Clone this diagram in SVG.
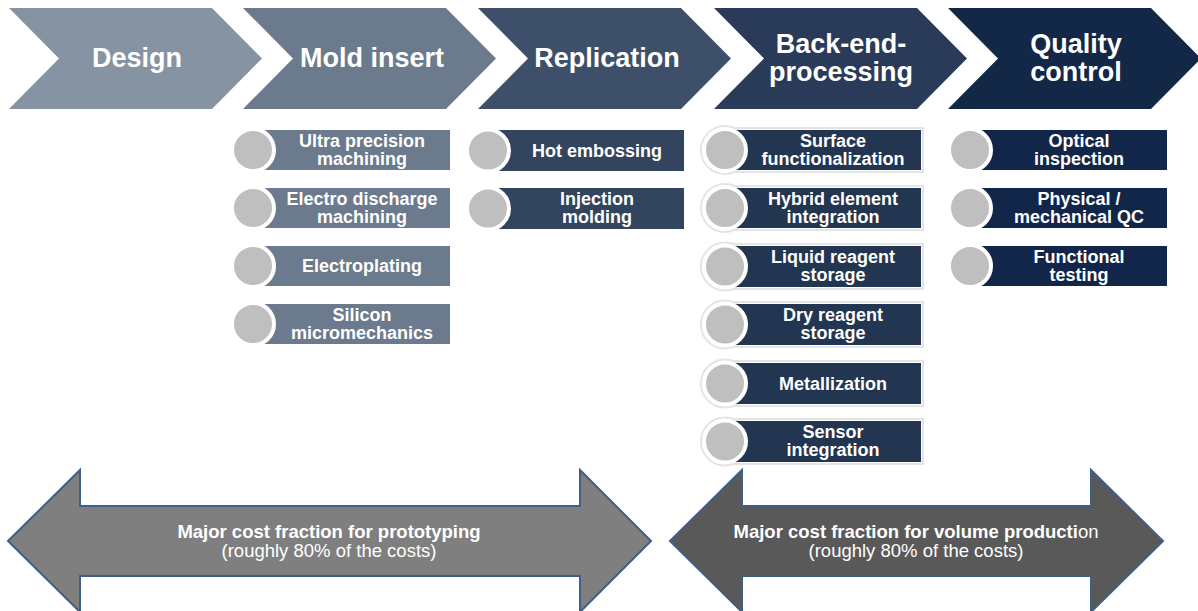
<svg xmlns="http://www.w3.org/2000/svg" width="1198" height="611" viewBox="0 0 1198 611">
<style>
.ct{font-family:"Liberation Sans",Arial,sans-serif;font-weight:bold;font-size:27px;fill:#fff;text-anchor:middle}
.bt{font-family:"Liberation Sans",Arial,sans-serif;font-weight:bold;font-size:18px;fill:#fff;text-anchor:middle}
.at{font-family:"Liberation Sans",Arial,sans-serif;font-size:18.5px;fill:#fff;text-anchor:middle}
.b{font-weight:bold}
.dot{fill:#bfbfbf;stroke:#fff;stroke-width:4}
.halo{fill:none;stroke:#e4e4e4;stroke-width:2}
</style>
<rect width="1198" height="611" fill="#fff"/>
<g id="design"><polygon points="9,8 212,8 262,58.5 212,109 9,109 59,58.5" fill="#8593a3"/><text class="ct" x="137" y="67">Design</text></g>
<g id="mold-insert"><polygon points="243,8 446,8 496,58.5 446,109 243,109 293,58.5" fill="#6b7a8c"/><text class="ct" x="372" y="67">Mold insert</text></g>
<g id="replication"><polygon points="478,8 681,8 731,58.5 681,109 478,109 528,58.5" fill="#3e5069"/><text class="ct" x="607" y="67">Replication</text></g>
<g id="back-end"><polygon points="714,8 917,8 967,58.5 917,109 714,109 764,58.5" fill="#293b58"/><text class="ct" x="841" y="53">Back-end-</text><text class="ct" x="841" y="81">processing</text></g>
<g id="quality"><polygon points="948,8 1151,8 1201,58.5 1151,109 948,109 998,58.5" fill="#132747"/><text class="ct" x="1076" y="53">Quality</text><text class="ct" x="1076" y="81">control</text></g>

<g id="mold-items" fill="#6b7a8c">
<g id="m1"><rect x="256" y="130" width="194" height="40"/><circle class="dot" cx="253" cy="150" r="21"/><text class="bt" x="362" y="147">Ultra precision</text><text class="bt" x="362" y="165">machining</text></g>
<g id="m2"><rect x="256" y="188" width="194" height="40"/><circle class="dot" cx="253" cy="208" r="21"/><text class="bt" x="362" y="205">Electro discharge</text><text class="bt" x="362" y="223">machining</text></g>
<g id="m3"><rect x="256" y="246" width="194" height="40"/><circle class="dot" cx="253" cy="266" r="21"/><text class="bt" x="362" y="272">Electroplating</text></g>
<g id="m4"><rect x="256" y="304" width="194" height="40"/><circle class="dot" cx="253" cy="324" r="21"/><text class="bt" x="362" y="321">Silicon</text><text class="bt" x="362" y="339">micromechanics</text></g>
</g>

<g id="rep-items" fill="#33455e">
<g id="r1"><rect x="491" y="130" width="193" height="41"/><circle class="dot" cx="488" cy="150.5" r="21"/><text class="bt" x="597" y="157">Hot embossing</text></g>
<g id="r2"><rect x="491" y="188" width="193" height="41"/><circle class="dot" cx="488" cy="208.5" r="21"/><text class="bt" x="597" y="205">Injection</text><text class="bt" x="597" y="223">molding</text></g>
</g>

<g id="back-items" fill="#233651">
<g id="b1"><rect class="halo" x="726" y="128" width="197" height="44"/><circle class="halo" cx="725" cy="150" r="24"/><rect x="728" y="130" width="193" height="40"/><circle class="dot" cx="725" cy="150" r="21"/><text class="bt" x="833" y="147">Surface</text><text class="bt" x="833" y="165">functionalization</text></g>
<g id="b2"><rect class="halo" x="726" y="186" width="197" height="44"/><circle class="halo" cx="725" cy="208" r="24"/><rect x="728" y="188" width="193" height="40"/><circle class="dot" cx="725" cy="208" r="21"/><text class="bt" x="833" y="205">Hybrid element</text><text class="bt" x="833" y="223">integration</text></g>
<g id="b3"><rect class="halo" x="726" y="244" width="197" height="45"/><circle class="halo" cx="725" cy="266.5" r="24"/><rect x="728" y="246" width="193" height="41"/><circle class="dot" cx="725" cy="266.5" r="21"/><text class="bt" x="833" y="263">Liquid reagent</text><text class="bt" x="833" y="281">storage</text></g>
<g id="b4"><rect class="halo" x="726" y="302" width="197" height="45"/><circle class="halo" cx="725" cy="324.5" r="24"/><rect x="728" y="304" width="193" height="41"/><circle class="dot" cx="725" cy="324.5" r="21"/><text class="bt" x="833" y="321">Dry reagent</text><text class="bt" x="833" y="339">storage</text></g>
<g id="b5"><rect class="halo" x="726" y="361" width="197" height="45"/><circle class="halo" cx="725" cy="383.5" r="24"/><rect x="728" y="363" width="193" height="41"/><circle class="dot" cx="725" cy="383.5" r="21"/><text class="bt" x="833" y="390">Metallization</text></g>
<g id="b6"><rect class="halo" x="726" y="419" width="197" height="45"/><circle class="halo" cx="725" cy="441.5" r="24"/><rect x="728" y="421" width="193" height="41"/><circle class="dot" cx="725" cy="441.5" r="21"/><text class="bt" x="833" y="438">Sensor</text><text class="bt" x="833" y="456">integration</text></g>
</g>

<g id="qc-items" fill="#12264a">
<g id="q1"><rect x="973" y="130" width="194" height="40"/><circle class="dot" cx="970" cy="150" r="21"/><text class="bt" x="1079" y="147">Optical</text><text class="bt" x="1079" y="165">inspection</text></g>
<g id="q2"><rect x="973" y="188" width="194" height="40"/><circle class="dot" cx="970" cy="208" r="21"/><text class="bt" x="1079" y="205">Physical /</text><text class="bt" x="1079" y="223">mechanical QC</text></g>
<g id="q3"><rect x="973" y="246" width="194" height="40"/><circle class="dot" cx="970" cy="266" r="21"/><text class="bt" x="1079" y="263">Functional</text><text class="bt" x="1079" y="281">testing</text></g>
</g>

<g id="connectors">
<g id="proto-arrow"><polygon points="8,541 80,470 80,506 580,506 580,470 651,541 580,612 580,576 80,576 80,612" fill="#7f7f7f" stroke="#3f5f86" stroke-width="2"/>
<text class="at b" x="329" y="538">Major cost fraction for prototyping</text><text class="at" x="329" y="557">(roughly 80% of the costs)</text></g>
<g id="volume-arrow"><polygon points="670,541 742,470 742,506 1091,506 1091,470 1163,541 1091,612 1091,576 742,576 742,612" fill="#595959" stroke="#3f5f86" stroke-width="2"/>
<text class="at" x="916" y="538"><tspan class="b">Major cost fraction for volume producti</tspan>on</text><text class="at" x="916" y="557">(roughly 80% of the costs)</text></g>
</g>
</svg>
